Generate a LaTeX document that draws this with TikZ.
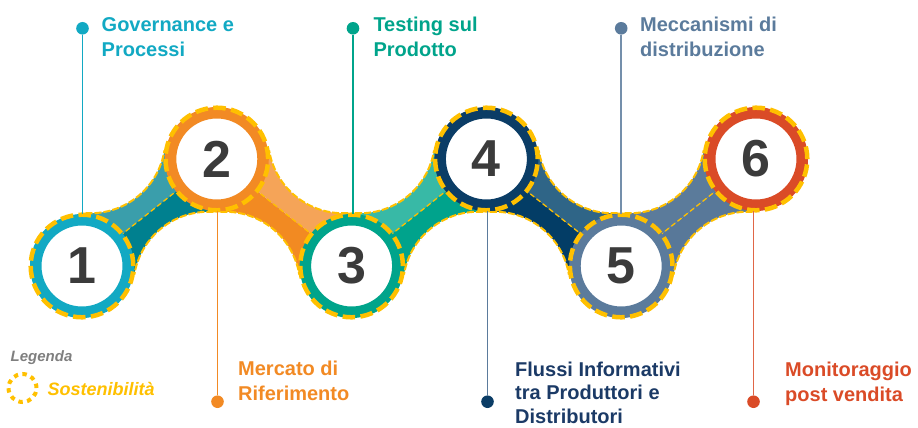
\documentclass[tikz,border=0pt]{standalone}
\usepackage{fontspec}
\setmainfont{Liberation Sans}
\usetikzlibrary{calc}
\definecolor{cA}{HTML}{12A9C3}
\definecolor{cB}{HTML}{F28A24}
\definecolor{cC}{HTML}{00A48B}
\definecolor{cD}{HTML}{0B3D66}
\definecolor{cE}{HTML}{5B7B9C}
\definecolor{cF}{HTML}{DA4B27}
\definecolor{tD}{HTML}{1B3A66}
\definecolor{ygold}{HTML}{FFC000}
\definecolor{numgray}{HTML}{3B3B3B}
\definecolor{lgray}{HTML}{7F7F7F}
\definecolor{bAl}{HTML}{3A9EAB}\definecolor{bAd}{HTML}{00808F}
\definecolor{bBl}{HTML}{F5A458}\definecolor{bBd}{HTML}{F28A22}
\definecolor{bCl}{HTML}{38B9A6}\definecolor{bCd}{HTML}{00A38C}
\definecolor{bDl}{HTML}{2F6587}\definecolor{bDd}{HTML}{033D66}
\definecolor{bEl}{HTML}{5B7B9B}\definecolor{bEd}{HTML}{587899}
\tikzset{
  ring/.style={circle, draw=#1, line width=11.5pt, fill=white, minimum size=92.5pt,
    inner sep=0pt, font=\fontsize{52}{52}\selectfont\bfseries, text=numgray},
  yring/.style={draw=ygold, line width=4.5pt, dash pattern=on 12.5pt off 5.4pt},
  bandedge/.style={draw=ygold, line width=2pt, dash pattern=on 7pt off 2pt},
  bandmid/.style={draw=ygold, line width=1.3pt, dash pattern=on 5pt off 3pt},
  dotnode/.style={circle, fill=#1, minimum size=12.6pt, inner sep=0pt},
  conn/.style={draw=#1, line width=1.5pt},
  lbl/.style={anchor=base west, inner sep=0pt, font=\fontsize{20}{25}\selectfont\bfseries},
}
% #1 start centre, #2 y unit (1pt rising band, -1pt falling band), #3 colour of first half, #4 colour of second half
\newcommand\bandshape[4]{%
  \begin{scope}[shift={(#1)}, x=1pt, y=#2]
    \fill[#3] (0,0) -- (3.50,52.92) arc[start angle=266.21, end angle=350.67, radius=75] -- (134.8,107) -- cycle;
    \fill[#4] (134.8,107) -- (131.30,54.08) arc[start angle=86.21, end angle=170.67, radius=75] -- (0,0) -- cycle;
    \draw[bandedge] (3.50,52.92) arc[start angle=266.21, end angle=350.67, radius=75];
    \draw[bandedge] (131.30,54.08) arc[start angle=86.21, end angle=170.67, radius=75];
    \draw[bandmid] (0,0) -- (134.8,107);
  \end{scope}}
\begin{document}
\begin{tikzpicture}[x=1pt, y=-1pt]
\useasboundingbox (0,0) rectangle (918,428);
% centres
\coordinate (p1) at (82,266);
\coordinate (p2) at (216.8,159);
\coordinate (p3) at (351.6,266);
\coordinate (p4) at (486.4,159);
\coordinate (p5) at (621.2,266);
\coordinate (p6) at (756,159);
% bands
\bandshape{p1}{1pt}{bAl}{bAd}
\bandshape{p2}{-1pt}{bBd}{bBl}
\bandshape{p3}{1pt}{bCl}{bCd}
\bandshape{p4}{-1pt}{bDd}{bDl}
\bandshape{p5}{1pt}{bEl}{bEd}
% rings
\node[ring=cA] (c1) at (p1) {1};
\node[ring=cB] (c2) at (p2) {2};
\node[ring=cC] (c3) at (p3) {3};
\node[ring=cD] (c4) at (p4) {4};
\node[ring=cE] (c5) at (p5) {5};
\node[ring=cF] (c6) at (p6) {6};
\foreach \i in {1,...,6} {\draw[yring] (c\i.center) circle[radius=51.3pt];}
% dots
\node[dotnode=cA] (d1) at (82.5,28.3) {};
\node[dotnode=cC] (d3) at (353,28.3) {};
\node[dotnode=cE] (d5) at (621.2,28.3) {};
\node[dotnode=cB] (d2) at (217.5,401.7) {};
\node[dotnode=cD] (d4) at (487.5,401.7) {};
\node[dotnode=cF] (d6) at (753.5,401.7) {};
% connectors
\draw[conn=cA] (d1) -- (d1 |- c1.north);
\draw[conn=cC] (d3) -- (d3 |- c3.north);
\draw[conn=cE!85] (d5) -- (d5 |- c5.north);
\draw[conn=cB] (d2) -- (d2 |- c2.south);
\draw[conn=cE] (d4) -- (d4 |- c4.south);
\draw[conn=cF!85] (d6) -- (d6 |- c6.south);
% labels
\node[lbl, text=cA] (t1) at (101.5,31.7) {\vtop{\hbox{Governance e}\hbox{Processi}}};
\node[lbl, text=cC] (t3) at (373.3,31.7) {\vtop{\hbox{Testing sul}\hbox{Prodotto}}};
\node[lbl, text=cE] (t5) at (640,31.7) {\vtop{\hbox{Meccanismi di}\hbox{distribuzione}}};
\node[lbl, text=cB] (t2) at (238,375.5) {\vtop{\hbox{Mercato di}\hbox{Riferimento}}};
\node[lbl, text=tD, font=\fontsize{20}{23.8}\selectfont\bfseries] (t4) at (515,376) {\vtop{\hbox{Flussi Informativi}\hbox{tra Produttori e}\hbox{Distributori}}};
\node[lbl, text=cF] (t6) at (785,376.7) {\vtop{\hbox{Monitoraggio}\hbox{post vendita}}};
% legend
\node[anchor=base west, inner sep=0pt, font=\fontsize{15}{15}\selectfont\bfseries\itshape, text=lgray] (leg) at (10.5,361.5) {Legenda};
\node[circle, draw=ygold, line width=4pt, dash pattern=on 4.4pt off 4.4pt, minimum size=28pt, inner sep=0pt] (icon) at (22.5,388) {};
\node[anchor=base west, inner sep=0pt, font=\fontsize{18}{18}\selectfont\bfseries\itshape, text=ygold] (sost) at (47.5,395) {Sostenibilità};
\end{tikzpicture}
\end{document}
